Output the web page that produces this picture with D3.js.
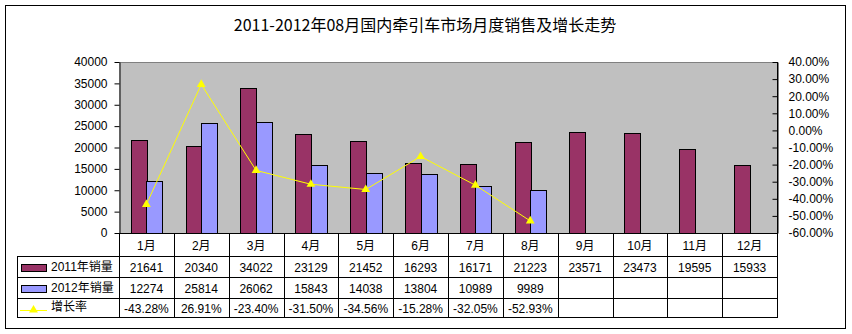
<!DOCTYPE html>
<html>
<head>
<meta charset="utf-8">
<script src="https://cdn.jsdelivr.net/npm/d3@7"></script>
<style>
  html, body { margin: 0; padding: 0; background: #fff; }
  svg { display: block; }
  text { font-family: "Liberation Sans", Arial, "Noto Sans CJK SC", sans-serif; fill: #000; }
</style>
</head>
<body>
<svg id="chart" width="852" height="334"></svg>
<script>
// ---- Data ----
const title = "2011-2012年08月国内牵引车市场月度销售及增长走势";
const months = ["1月","2月","3月","4月","5月","6月","7月","8月","9月","10月","11月","12月"];
const seriesNames = ["2011年销量", "2012年销量", "增长率"];
const sales2011 = [21641, 20340, 34022, 23129, 21452, 16293, 16171, 21223, 23571, 23473, 19595, 15933];
const sales2012 = [12274, 25814, 26062, 15843, 14038, 13804, 10989, 9989];
const growth = [-43.28, 26.91, -23.40, -31.50, -34.56, -15.28, -32.05, -52.93];
const leftTicks = [0, 5000, 10000, 15000, 20000, 25000, 30000, 35000, 40000];
const rightTicks = [-60, -50, -40, -30, -20, -10, 0, 10, 20, 30, 40];

// ---- Layout ----
const L = 119, R = 777, T = 62, B = 233;
const rowY = [233, 256, 277, 298, 317];
const tableLeft = 17;
const c2011 = "#993366", c2012 = "#9999FF", cLine = "#FFFF00";

const svg = d3.select("#chart");

// outer border
svg.append("rect").attr("x", 5.5).attr("y", 5.5).attr("width", 840).attr("height", 323)
  .attr("fill", "#fff").attr("stroke", "#000").attr("stroke-width", 1);

// title
svg.append("text").attr("x", 425).attr("y", 31).attr("text-anchor", "middle")
  .style("font-family", "'Noto Sans CJK SC', sans-serif").style("font-size", "16px")
  .text(title);

// scales
const x = d3.scaleBand().domain(months).range([L, R]).paddingInner(0).paddingOuter(0);
const xs = d3.scaleBand().domain(["a", "b"]).range([0, x.bandwidth()]).paddingInner(0).paddingOuter(0.75);
const y = d3.scaleLinear().domain([0, 40000]).range([B, T]);
const yr = d3.scaleLinear().domain([-60, 40]).range([B, T]);

// plot background
svg.append("rect").attr("x", L).attr("y", T).attr("width", R - L).attr("height", B - T)
  .attr("fill", "#C0C0C0");
svg.append("line").attr("x1", L).attr("x2", R).attr("y1", T + 0.5).attr("y2", T + 0.5)
  .attr("stroke", "#808080");

// bars
const g = svg.append("g");
g.selectAll("rect.b11").data(sales2011).join("rect")
  .attr("x", (d, i) => Math.round(x(months[i]) + xs("a")) + 0.5)
  .attr("y", d => Math.round(y(d)) + 0.5)
  .attr("width", Math.round(xs.bandwidth()))
  .attr("height", d => Math.round(B) - Math.round(y(d)))
  .attr("fill", c2011).attr("stroke", "#000").attr("stroke-width", 1);
g.selectAll("rect.b12").data(sales2012).join("rect")
  .attr("x", (d, i) => Math.round(x(months[i]) + xs("b")) + 0.5)
  .attr("y", d => Math.round(y(d)) + 0.5)
  .attr("width", Math.round(xs.bandwidth()))
  .attr("height", d => Math.round(B) - Math.round(y(d)))
  .attr("fill", c2012).attr("stroke", "#000").attr("stroke-width", 1);

// growth line
const cx = (i) => x(months[i]) + x.bandwidth() / 2;
svg.append("path").datum(growth)
  .attr("d", d3.line().x((d, i) => cx(i)).y(d => yr(d)))
  .attr("fill", "none").attr("stroke", cLine).attr("stroke-width", 1);
const tri = d3.symbol().type(d3.symbolTriangle).size(34);
svg.selectAll("path.m").data(growth).join("path")
  .attr("transform", (d, i) => `translate(${cx(i)},${yr(d)})`)
  .attr("d", tri).attr("fill", cLine);

// left axis
const ax = svg.append("g").attr("transform", `translate(${L + 0.5},0)`)
  .call(d3.axisLeft(y).tickValues(leftTicks).tickSize(5).tickSizeOuter(0).tickPadding(7).tickFormat(d => String(d)));
ax.select(".domain").attr("stroke", "#000");
ax.selectAll("text").style("font-size", "12px").attr("font-family", null);

// right axis
const ar = svg.append("g").attr("transform", `translate(${R + 0.5},0)`)
  .call(d3.axisRight(yr).tickValues(rightTicks).tickSize(-5).tickSizeOuter(0).tickPadding(11).tickFormat(d => d.toFixed(2) + "%"));
ar.selectAll("text").style("font-size", "12px").attr("font-family", null);
// extend right axis line through table
svg.append("line").attr("x1", R + 0.5).attr("x2", R + 0.5).attr("y1", T).attr("y2", rowY[4])
  .attr("stroke", "#000");

// bottom axis line
svg.append("line").attr("x1", L).attr("x2", R + 1).attr("y1", B + 0.5).attr("y2", B + 0.5).attr("stroke", "#000");

// ---- data table ----
const tg = svg.append("g").attr("stroke", "#000").attr("stroke-width", 1);
// horizontal lines
rowY.slice(1).forEach(yy => {
  tg.append("line").attr("x1", tableLeft + 0.5).attr("x2", R + 1).attr("y1", yy + 0.5).attr("y2", yy + 0.5);
});
// verticals at category boundaries
months.forEach(m => {
  const xx = Math.round(x(m)) + 0.5;
  tg.append("line").attr("x1", xx).attr("x2", xx).attr("y1", B).attr("y2", rowY[4]);
});
tg.append("line").attr("x1", tableLeft + 0.5).attr("x2", tableLeft + 0.5).attr("y1", rowY[1]).attr("y2", rowY[4] + 1);

// month labels
svg.selectAll("text.mon").data(months).join("text")
  .attr("x", m => x(m) + x.bandwidth() / 2).attr("y", (rowY[0] + rowY[1]) / 2 + 5)
  .attr("text-anchor", "middle").style("font-size", "12px")
  .text(d => d);

function rowText(vals, r, fmt) {
  svg.append("g").selectAll("text").data(vals).join("text")
    .attr("x", (d, i) => x(months[i]) + x.bandwidth() / 2)
    .attr("y", (rowY[r] + rowY[r + 1]) / 2 + 5)
    .attr("text-anchor", "middle").style("font-size", "12px")
    .text(fmt);
}
rowText(sales2011, 1, d => String(d));
rowText(sales2012, 2, d => String(d));
rowText(growth, 3, d => d.toFixed(2) + "%");

// legend keys in table
const lg = svg.append("g");
lg.append("rect").attr("x", 21.5).attr("y", 264.5).attr("width", 25).attr("height", 7)
  .attr("fill", c2011).attr("stroke", "#000");
lg.append("rect").attr("x", 21.5).attr("y", 285.5).attr("width", 25).attr("height", 7)
  .attr("fill", c2012).attr("stroke", "#000");
lg.append("line").attr("x1", 20).attr("x2", 47).attr("y1", 310.5).attr("y2", 310.5).attr("stroke", cLine);
lg.append("path").attr("transform", "translate(33.5,310)").attr("d", tri).attr("fill", cLine);
[0, 1, 2].forEach(k => {
  lg.append("text").attr("x", 51).attr("y", (rowY[k + 1] + rowY[k + 2]) / 2 + (k === 2 ? 3 : 4))
    .style("font-size", "12px").text(seriesNames[k]);
});
</script>
</body>
</html>
